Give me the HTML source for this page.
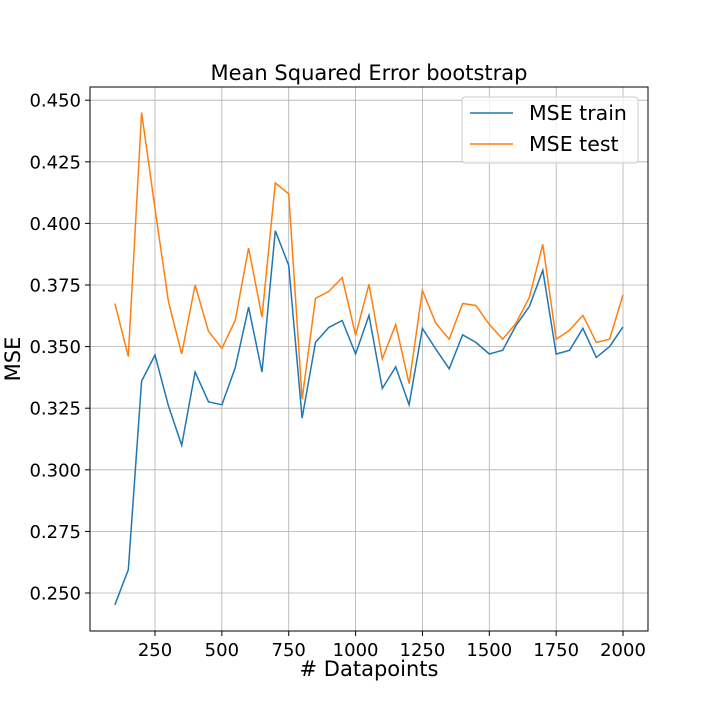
<!DOCTYPE html>
<html><head><meta charset="utf-8"><style>
body{margin:0;background:#fff}
svg text{font-family:"DejaVu Sans","Liberation Sans",sans-serif;fill:#000}
</style></head><body>
<svg id="chart" width="720" height="720">
<text x="369" y="80" font-size="21" text-anchor="middle">Mean Squared Error bootstrap</text>
<g id="grid"></g>
<g id="ticks"></g>
<g id="lines"></g>
<rect x="90" y="87" width="558" height="544" fill="none" stroke="#000" stroke-width="1"/>
<text x="369" y="676" font-size="21" text-anchor="middle"># Datapoints</text>
<text transform="translate(20,359) rotate(-90)" font-size="21" text-anchor="middle">MSE</text>
<g>
<rect x="462" y="97" width="176" height="66" rx="3" fill="#fff" fill-opacity="0.8" stroke="#ccc"/>
<line x1="470" y1="113" x2="513" y2="113" stroke="#1f77b4" stroke-width="1.5"/>
<text x="529" y="120" font-size="20.5">MSE train</text>
<line x1="470" y1="144" x2="513" y2="144" stroke="#ff7f0e" stroke-width="1.5"/>
<text x="529" y="151" font-size="20.5">MSE test</text>
</g>
</svg>
<script>
const datapoints=[100,150,200,250,300,350,400,450,500,550,600,650,700,750,800,850,900,950,1000,1050,1100,1150,1200,1250,1300,1350,1400,1450,1500,1550,1600,1650,1700,1750,1800,1850,1900,1950,2000];
const mseTrain=[0.2452,0.2594,0.336,0.3466,0.326,0.310,0.3397,0.3276,0.3264,0.3414,0.366,0.3397,0.397,0.383,0.321,0.3517,0.3578,0.3606,0.347,0.3627,0.333,0.3418,0.3264,0.3574,0.349,0.341,0.3548,0.3517,0.347,0.3485,0.3586,0.3663,0.381,0.347,0.3485,0.3574,0.3456,0.350,0.358];
const mseTest=[0.3675,0.346,0.445,0.406,0.3684,0.347,0.375,0.3562,0.3493,0.3606,0.390,0.362,0.4164,0.412,0.3287,0.3696,0.3724,0.378,0.3546,0.3753,0.345,0.359,0.335,0.3728,0.3595,0.353,0.3675,0.3667,0.359,0.353,0.3595,0.370,0.3915,0.353,0.3566,0.3627,0.3517,0.353,0.371];
const xTicks=[250,500,750,1000,1250,1500,1750,2000];
const yTicks=[0.250,0.275,0.300,0.325,0.350,0.375,0.400,0.425,0.450];
const NS='http://www.w3.org/2000/svg';
function xs(v){return 155+(v-250)*(66.86/250);}
function ys(v){return 593-(v-0.25)*(61.6/0.025);}
function mk(tag,attrs,parent){const e=document.createElementNS(NS,tag);for(const k in attrs)e.setAttribute(k,attrs[k]);document.getElementById(parent).appendChild(e);return e;}
xTicks.forEach(t=>{
 const g=mk('line',{x1:xs(t),x2:xs(t),y1:87,y2:631,stroke:'#b0b0b0','stroke-width':0.8},'grid');
 
 
 const tk=mk('line',{x1:xs(t),x2:xs(t),y1:631,y2:636,stroke:'#000'},'ticks');
 
 
 const tx=mk('text',{x:xs(t),y:656,'font-size':18,'text-anchor':'middle'},'ticks');
 tx.textContent=t;
 
 
});
yTicks.forEach(t=>{
 const g=mk('line',{x1:90,x2:648,y1:ys(t),y2:ys(t),stroke:'#b0b0b0','stroke-width':0.8},'grid');
 
 
 const tk=mk('line',{x1:85,x2:90,y1:ys(t),y2:ys(t),stroke:'#000'},'ticks');
 
 
 const tx=mk('text',{x:81,y:ys(t)+6.5,'font-size':18,'text-anchor':'end'},'ticks');
 tx.textContent=t.toFixed(3);
 
 
});
function series(vals,color,name){
 const pts=vals.map((v,i)=>xs(datapoints[i]).toFixed(1)+','+ys(v).toFixed(1)).join(' ');
 const p=mk('polyline',{points:pts,fill:'none',stroke:color,'stroke-width':1.5},'lines');
 
 
}
series(mseTrain,'#1f77b4','mse-train-line');
series(mseTest,'#ff7f0e','mse-test-line');
</script>
</body></html>
